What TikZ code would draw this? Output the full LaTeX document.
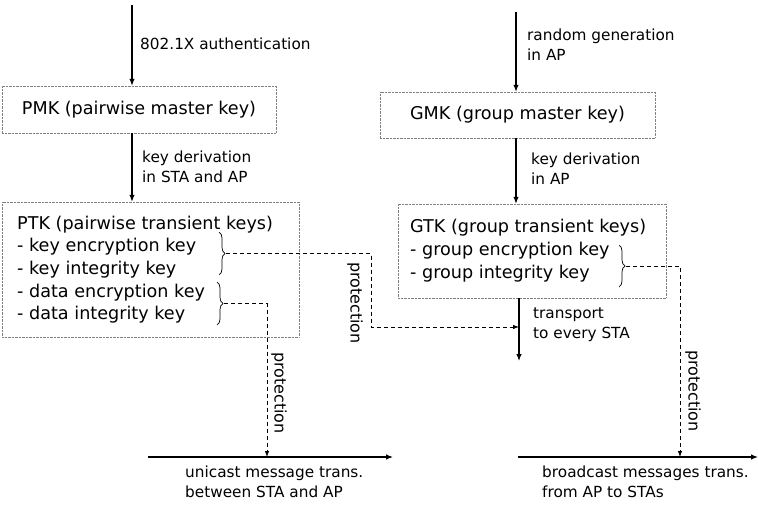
\documentclass[tikz,border=0pt]{standalone}
\usepackage{fontspec}
\setmainfont{DejaVu Sans}
\usetikzlibrary{arrows.meta,decorations.pathreplacing}

\tikzset{
  keybox/.style={draw=gray, densely dotted, inner sep=0pt},
  keyline/.style={anchor=base west, inner sep=0pt, font=\fontsize{17.6}{22}\selectfont},
  steplabel/.style={anchor=west, align=left, inner sep=0pt, font=\fontsize{15.3}{20}\selectfont},
  prot/.style={line width=0.8pt, dash pattern=on 4pt off 3pt, -{Latex[length=6pt,width=4.5pt]}},
  protlabel/.style={rotate=-90, inner sep=0pt, font=\fontsize{16}{18}\selectfont},
  keybrace/.style={decorate, decoration={brace, amplitude=6pt}, line width=0.7pt},
  flow/.style={line width=1.2pt, -{Latex[length=7pt,width=5.5pt]}}
}

\begin{document}
\begin{tikzpicture}[x=1pt, y=-1pt]
  \useasboundingbox (0,0) rectangle (758,506);

  % Pairwise side
  \coordinate (pmksrc) at (132,5);
  \node[keybox, minimum width=274pt, minimum height=47pt] (pmk) at (139,109.5) {};
  \node[keyline, anchor=center] (pmktext) at (pmk.center) {PMK (pairwise master key)};
  \node[keybox, minimum width=297pt, minimum height=135pt] (ptk) at (150.5,269.5) {};
  \node[keyline] (ptk0) at (17,229) {PTK (pairwise transient keys)};
  \node[keyline] (ptk1) at (17,251) {- key encryption key};
  \node[keyline] (ptk2) at (17,274) {- key integrity key};
  \node[keyline] (ptk3) at (17,297) {- data encryption key};
  \node[keyline] (ptk4) at (17,319) {- data integrity key};

  \draw[flow] (pmksrc) -- (pmksrc |- pmk.north);
  \node[steplabel] (auth) at (140,44) {802.1X authentication};
  \draw[flow] (pmk.south -| pmksrc) -- (ptk.north -| pmksrc);
  \node[steplabel] (pderiv) at (142,167) {key derivation\\in STA and AP};

  % Group side
  \coordinate (gmksrc) at (516,12);
  \node[keybox, minimum width=275pt, minimum height=46pt] (gmk) at (517.5,115) {};
  \node[keyline, anchor=center] (gmktext) at (gmk.center) {GMK (group master key)};
  \node[keybox, minimum width=268pt, minimum height=94pt] (gtk) at (532,251) {};
  \node[keyline] (gtk0) at (410,232) {GTK (group transient keys)};
  \node[keyline] (gtk1) at (410,255) {- group encryption key};
  \node[keyline] (gtk2) at (410,278) {- group integrity key};

  \draw[flow] (gmksrc) -- (gmksrc |- gmk.north);
  \node[steplabel] (rgen) at (527,45) {random generation\\in AP};
  \draw[flow] (gmk.south -| gmksrc) -- (gtk.north -| gmksrc);
  \node[steplabel] (gderiv) at (531,169) {key derivation\\in AP};

  \coordinate (tportend) at (519,361);
  \draw[flow] (gtk.south -| tportend) -- (tportend);
  \node[steplabel] (tport) at (533,325) {transport\\to every STA};

  % Message transmission
  \coordinate (unistart) at (148,457);
  \coordinate (uniend) at (393,457);
  \draw[flow] (unistart) -- (uniend);
  \node[steplabel] (uni) at (185,482) {unicast message trans.\\between STA and AP};
  \coordinate (bcstart) at (518,457);
  \coordinate (bcend) at (758,457);
  \draw[flow] (bcstart) -- (bcend);
  \node[steplabel] (bc) at (542,482) {broadcast messages trans.\\from AP to STAs};

  % Braces
  \draw[keybrace] (219,232) -- (219,275) coordinate[midway, xshift=7pt] (kektip);
  \draw[keybrace] (217,282) -- (217,325) coordinate[midway, xshift=7pt] (dektip);
  \draw[keybrace] (619,245) -- (619,287) coordinate[midway, xshift=7pt] (gektip);

  % Protection
  \coordinate (kekbend) at (371,327);
  \draw[prot] (kektip) -| (kekbend) -- (tportend |- kekbend);
  \node[protlabel] (prot1) at (355,303) {protection};
  \coordinate (dekhit) at (267,457);
  \draw[prot] (dektip) -| (dekhit);
  \node[protlabel] (prot2) at (279,393) {protection};
  \coordinate (gekhit) at (680,457);
  \draw[prot] (gektip) -| (gekhit);
  \node[protlabel] (prot3) at (693,391) {protection};
\end{tikzpicture}
\end{document}
